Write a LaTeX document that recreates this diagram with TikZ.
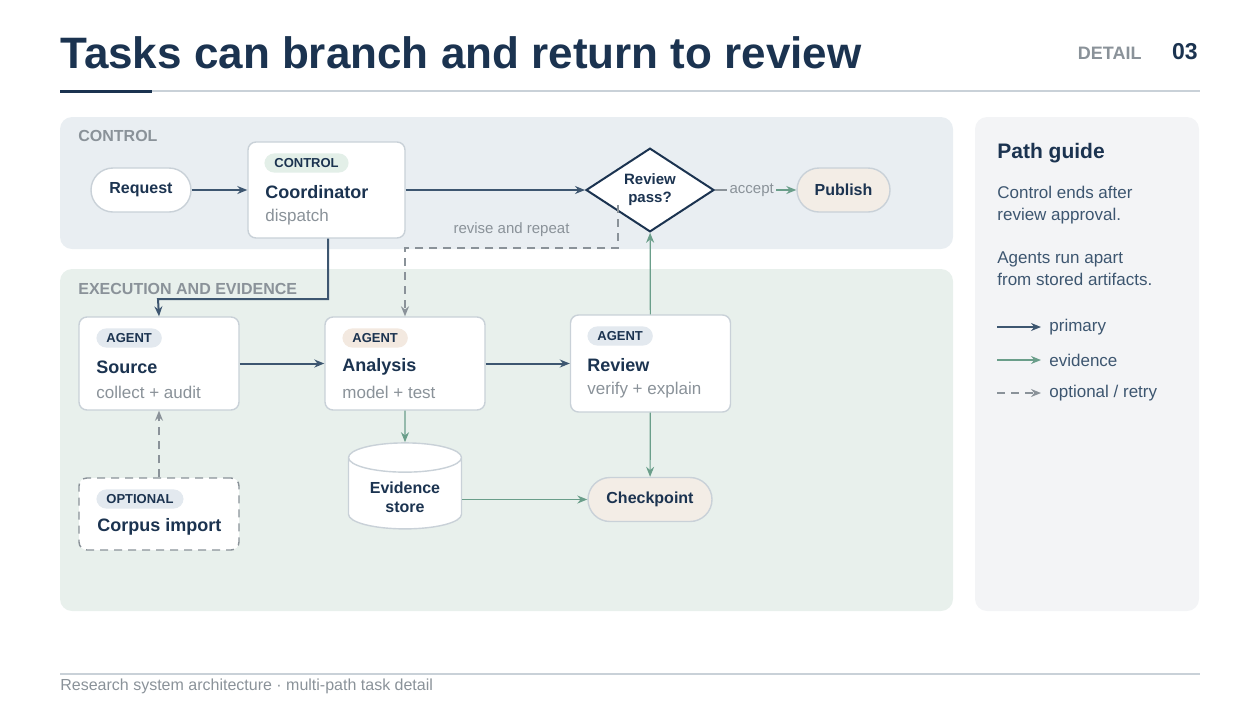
\documentclass[tikz,border=0pt]{standalone}
\usepackage{fontspec}
\setmainfont{Liberation Sans}
\usetikzlibrary{positioning,shapes.geometric,arrows.meta}
\definecolor{navy}{HTML}{1B3350}
\definecolor{prim}{HTML}{3D5670}
\definecolor{evid}{HTML}{6A9E8A}
\definecolor{muted}{HTML}{8A9299}
\definecolor{edge}{HTML}{C9D1D8}
\definecolor{ctrlbg}{HTML}{E9EEF2}
\definecolor{execbg}{HTML}{E8F0EC}
\definecolor{guidebg}{HTML}{F3F4F6}
\definecolor{tagblue}{HTML}{E3E9EF}
\definecolor{taggreen}{HTML}{E3EFE8}
\definecolor{tagsand}{HTML}{F3E9E0}
\definecolor{sand}{HTML}{F3EDE6}
\tikzset{
  panel/.style={rounded corners=6pt, draw=none},
  card/.style={draw=edge, line width=0.7pt, fill=white, rounded corners=4pt, minimum width=80pt, minimum height=46.5pt},
  pill/.style={draw=edge, line width=0.7pt, rounded corners=11pt, minimum height=22pt, font=\bfseries\fontsize{8}{9}\selectfont, text=navy},
  tagbox/.style={fill=#1, rounded corners=5pt, inner xsep=5pt, inner ysep=2.5pt, font=\bfseries\fontsize{6.5}{7}\selectfont, text=navy, anchor=west},
  cardtitle/.style={font=\bfseries\fontsize{9}{10}\selectfont, text=navy, anchor=west, inner sep=0pt},
  cardsub/.style={font=\fontsize{8.5}{10}\selectfont, text=muted, anchor=west, inner sep=0pt},
  section/.style={font=\bfseries\fontsize{8}{9}\selectfont, text=muted, anchor=west, inner sep=0pt},
  guidetxt/.style={font=\fontsize{8.5}{11}\selectfont, text=prim, anchor=west, align=left, inner sep=0pt},
  primary/.style={draw=prim, line width=0.7pt, -{Stealth[length=5pt,width=4pt]}},
  evidence/.style={draw=evid, line width=0.6pt, -{Stealth[length=5pt,width=4pt]}},
  optional/.style={draw=muted, line width=0.7pt, dash pattern=on 4pt off 3pt, -{Stealth[length=5pt,width=4pt]}},
}
\begin{document}
\begin{tikzpicture}[x=0.5pt,y=-0.5pt]
\useasboundingbox (0,0) rectangle (1260,709);
% header
\node[anchor=base west, inner sep=0pt, font=\bfseries\fontsize{22}{25}\selectfont, text=navy] (title) at (60,68) {Tasks can branch and return to review};
\node[anchor=base east, inner sep=0pt, font=\bfseries\fontsize{9}{10}\selectfont, text=muted] (detail) at (1142,59) {DETAIL};
\node[anchor=base east, inner sep=0pt, font=\bfseries\fontsize{11.5}{12}\selectfont, text=navy] (num) at (1198,59) {03};
\draw[edge, line width=0.6pt] (60,91) -- (1200,91);
\draw[navy, line width=1.5pt] (60,91) -- (152,91);
% panels
\fill[panel, ctrlbg] (60,117) rectangle (953,249);
\fill[panel, execbg] (60,269) rectangle (953,611);
\fill[panel, guidebg] (975,117) rectangle (1199,611);
\node[section] (lblctrl) at (78,136) {CONTROL};
\node[section] (lblexec) at (78,289) {EXECUTION AND EVIDENCE};
% control row
\node[pill, fill=white, minimum width=50pt] (request) at (141,190) {Request};
\node[card, minimum width=78.5pt, minimum height=48pt] (coord) at (326.5,190) {};
\node[tagbox=taggreen] (coordtag) at (264,163) {CONTROL};
\node[cardtitle] (coordtitle) at (265,192) {Coordinator};
\node[cardsub] (coordsub) at (265,217) {dispatch};
\node[diamond, draw=navy, line width=1pt, fill=white, minimum width=64pt, minimum height=41pt, inner sep=0pt, align=center, font=\bfseries\fontsize{7.5}{9}\selectfont, text=navy] (gate) at (650,190) {Review\\pass?};
\node[pill, fill=sand, minimum width=46.5pt] (publish) at (843.5,190) {Publish};
% agents
\node[card] (source) at (159,363.5) {};
\node[tagbox=tagblue] (sourcetag) at (96,338) {AGENT};
\node[cardtitle] (sourcetitle) at (96,367) {Source};
\node[cardsub] (sourcesub) at (96,392) {collect + audit};
\node[card] (analysis) at (405,363.5) {};
\node[tagbox=tagsand] (analysistag) at (342,338) {AGENT};
\node[cardtitle] (analysistitle) at (342,367) {Analysis};
\node[cardsub] (analysissub) at (342,392) {model + test};
\node[card, minimum height=48.5pt] (review) at (650.5,363.5) {};
\node[tagbox=tagblue] (reviewtag) at (587,336) {AGENT};
\node[cardtitle] (reviewtitle) at (587,365) {Review};
\node[cardsub] (reviewsub) at (587,390) {verify + explain};
\node[card, dashed, draw=muted, dash pattern=on 4pt off 3pt, minimum height=36pt] (corpus) at (159,514) {};
\node[tagbox=tagblue] (corpustag) at (96,499) {OPTIONAL};
\node[cardtitle] (corpustitle) at (97,527) {Corpus import};
\node[cylinder, shape border rotate=90, draw=edge, line width=0.7pt, fill=white, aspect=0.35, minimum width=56.5pt, minimum height=43pt, align=center, font=\bfseries\fontsize{8}{9.5}\selectfont, text=navy] (store) at (405,497) {Evidence\\store};
\node[pill, fill=sand, minimum width=62pt] (checkpoint) at (650,499.5) {Checkpoint};
% connectors
\draw[primary] (request) -- (coord);
\draw[primary] (coord) -- (gate);
\draw[muted, line width=0.6pt] (gate.east) -- ++(12,0) node[right, inner sep=1pt, font=\fontsize{7.5}{9}\selectfont, text=muted] (acc) {accept};
\draw[evidence] (acc) -- (publish);
\draw[primary, line width=1pt] (coord.south -| 328,0) |- (158,299) -- (source.north);
\draw[optional] (618,205) |- (405,248) node[pos=0.75, above=2pt, font=\fontsize{7.5}{9}\selectfont, text=muted] (revise) {revise and repeat} -- (analysis.north);
\draw[primary, line width=1pt] (source) -- (analysis);
\draw[primary, line width=1pt] (analysis) -- (review);
\draw[evidence] (analysis) -- (store.north);
\draw[evidence] (store.east |- checkpoint) -- (checkpoint);
\draw[evidence] (review) -- (checkpoint);
\draw[evidence] (review) -- (gate);
\draw[optional] (corpus) -- (source);
% path guide
\node[anchor=west, inner sep=0pt, font=\bfseries\fontsize{10.5}{12}\selectfont, text=navy] (guide) at (997,153) {Path guide};
\node[guidetxt] (g1) at (997,205) {Control ends after\\review approval.};
\node[guidetxt] (g2) at (997,269) {Agents run apart\\from stored artifacts.};
\foreach \y/\sty/\txt in {327/primary/primary, 360/evidence/evidence, 393/optional/{optional / retry}}{
  \coordinate (ls\y) at (997,\y);
  \node[guidetxt] (lt\y) at (1049,\y) {\txt};
  \draw[\sty] (ls\y) -- (1041,\y);
}
% footer
\draw[edge, line width=0.6pt] (60,674) -- (1200,674);
\node[anchor=west, inner sep=0pt, font=\fontsize{8}{9}\selectfont, text=muted] (footer) at (60,686) {Research system architecture · multi-path task detail};
\end{tikzpicture}
\end{document}
